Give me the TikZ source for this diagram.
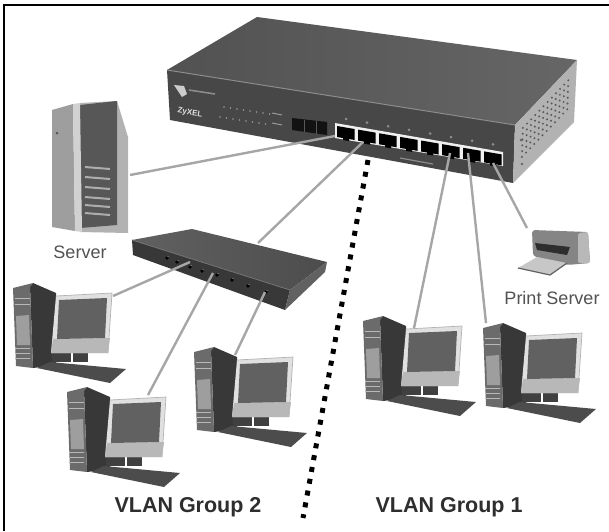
\documentclass[tikz,border=0pt]{standalone}
\usepackage{fontspec}
\setmainfont{Liberation Sans}
\definecolor{cable}{gray}{0.65}
\tikzset{
  cablewire/.style={draw=cable,line width=2.4pt},
  vlandots/.style={draw=black,line width=5pt,dash pattern=on 5pt off 7pt},
  grouplabel/.style={font=\fontsize{21.5}{24}\selectfont\bfseries,text=black!82,inner sep=0pt},
  devlabel/.style={font=\fontsize{18}{20}\selectfont,text=black!68,inner sep=0pt},
}
\newcommand{\pcunit}[2]{%
\begin{scope}[shift={(#1,#2)}]
  % tower
  \fill[black!78] (30,286) -- (33,283) -- (56,293) -- (56,365) -- (33,368) -- cycle;
  \fill[black!58] (13,288) -- (33,283) -- (30,287) -- (33,368) -- (16,366) -- cycle;
  \fill[black!38] (16,316) -- (29,315) -- (30,345) -- (17,345) -- cycle;
  \foreach \yy in {298,304,348,353,358}{\draw[black!28,line width=1pt] (15,\yy) -- (30,\yy);}
  % stand
  \fill[black!75] (52,352) -- (71,352) -- (71,362) -- (52,362) -- cycle;
  \fill[black!75] (73,352) -- (88,352) -- (88,362) -- (73,362) -- cycle;
  % keyboard
  \fill[black!70] (37,368) -- (50,362) -- (126,369) -- (110,383) -- cycle;
  % monitor
  \fill[black!12] (56,296) -- (112,293) -- (108,353) -- (51,353) -- cycle;
  \draw[black!30,line width=.7pt] (56,296) -- (112,293) -- (108,353);
  \fill[black!28] (53,339) -- (110,338) -- (108,353) -- (51,353) -- cycle;
  \fill[black!62] (59,300) -- (107,298) -- (105,338) -- (57,339) -- cycle;
\end{scope}}
\begin{document}
\begin{tikzpicture}[x=1pt,y=-1pt]
\useasboundingbox (0,0) rectangle (609,531);
\fill[white] (0,0) rectangle (609,531);
\fill[black] (3,4) rectangle (609,6);
\fill[black] (3,4) rectangle (5,531);

% ---------- main switch ----------
\shade[left color=black!68,middle color=black!78,right color=black!60] (167,70) -- (257,17) -- (577,60) -- (515,125) -- cycle;
\fill[black!72] (167,70) -- (515,125) -- (513,183) -- (170,120) -- cycle;
\draw[black!45,line width=1pt] (167,70) -- (515,125);
\fill[black!30] (515,125) -- (577,60) -- (574,122) -- (513,183) -- cycle;
\foreach \u in {2,...,13}{\foreach \v in {2,...,7}{
  \fill[black!65] ({515+62*\u/15-2*\v/10},{125-65*\u/15+58*\v/10}) circle (1.1);
}}
\fill[black!60] (521,140) circle (1.5);
\fill[black!60] (522,164) circle (1.3);
% logo and name
\fill[black!20] (174,85) -- (184,86) -- (187,94) -- (182,97) -- cycle;
\draw[black!45,line width=1.6pt] (189,90) -- (215,94);
\node[font=\fontsize{8}{9}\selectfont\bfseries,text=black!12,rotate=-9,inner sep=0pt] (brand) at (190,113) {ZyXEL};
% LEDs
\foreach \i in {0,...,7}{
  \fill[black!40] ({224+6.5*\i},{107+1*\i}) circle (0.8);
  \fill[black!40] ({220+6.5*\i},{117+1*\i}) circle (0.8);
}
\draw[black!40,line width=1pt] (272,113) -- (282,115);
\draw[black!40,line width=1pt] (272,123) -- (282,125);
% fibre block
\fill[black!93] (292,118) -- (327,122) -- (327,135) -- (292,130) -- cycle;
\draw[black!65,line width=1pt] (304,120) -- (304,132);
\draw[black!65,line width=1pt] (316,121) -- (316,134);
% RJ45 frame and ports
\fill[black!6] (335,123) -- (503,152) -- (503,166) -- (335,138) -- cycle;
\foreach \i in {0,...,7}{
  \pgfmathsetmacro{\px}{335+21*\i}
  \pgfmathsetmacro{\py}{123+3.625*\i}
  \fill[black] ({\px+2},{\py+3}) -- ({\px+19.5},{\py+6}) -- ({\px+19.5},{\py+17}) -- ({\px+14},{\py+16})
     -- ({\px+14},{\py+18}) -- ({\px+8},{\py+17}) -- ({\px+8},{\py+15}) -- ({\px+2},{\py+14}) -- cycle;
  \fill[black!45] ({\px+11},{\py-4}) circle (1.5);
}
\draw[black!45,line width=1.2pt] (400,158) -- (433,164);

% ---------- second switch ----------
\shade[left color=black!62,right color=black!70] (132,240) -- (192,229) -- (327,262) -- (290,290) -- cycle;
\fill[black!78] (132,240) -- (290,290) -- (285,310) -- (133,255) -- cycle;
\fill[black!62] (290,290) -- (327,262) -- (325,272) -- (285,310) -- cycle;
\draw[black!55,line width=.8pt] (132,240) -- (290,290);
\foreach \qx/\qy in {167/258,177/262,190/267,202/271,217/275,232/280,248/286,266/292}{
  \fill[black] (\qx,\qy) circle (1.8);
  \fill[black!40] ({\qx+1},{\qy-1.5}) circle (0.6);
}

% ---------- server ----------
\fill[black!30] (117,101) -- (128,137) -- (128,233) -- (80,232) -- (80,103) -- cycle;
\fill[black!66] (80,105) -- (117,101) -- (117,225) -- (80,228) -- cycle;
\fill[black!38] (52,110) -- (73,104) -- (75,231) -- (52,227) -- cycle;
\fill[black!18] (73,104) -- (80,103) -- (82,232) -- (75,231) -- cycle;
\foreach \yy in {167,177,187,197,205,213}{
  \draw[black!32,line width=2pt] (85,\yy) -- (110,{\yy+2});
}
\fill[black!65] (57,133) circle (1.5);

% ---------- printer ----------
\fill[black!48,rounded corners=3pt] (532,230) -- (588,232) -- (590,263) -- (567,265) -- (533,256) -- cycle;
\fill[black!28,rounded corners=2pt] (578,233) -- (588,232) -- (590,263) -- (578,263) -- cycle;
\fill[black!82] (535,243) -- (570,247) -- (567,255) -- (537,250) -- cycle;
\fill[black!22] (518,268) -- (537,257) -- (567,263) -- (550,275) -- cycle;
\draw[black!62,line width=1.2pt] (518,268) -- (550,275) -- (567,263);

% ---------- computers ----------
\pcunit{0}{0}
\pcunit{54}{104}
\pcunit{181}{64}
\pcunit{350}{33}
\pcunit{470}{40}

% ---------- connectors ----------
\coordinate (srvR) at (130,175);
\coordinate (p1) at (335,136);
\coordinate (p2) at (363,142);
\coordinate (p6) at (450,153);
\coordinate (p7) at (468,153);
\coordinate (p8) at (493,163);
\coordinate (swTop) at (258,243);
\coordinate (swA) at (190,262);
\coordinate (swB) at (213,273);
\coordinate (swC) at (265,292);
\coordinate (pcA) at (113,296);
\coordinate (pcB) at (148,395);
\coordinate (pcC) at (235,355);
\coordinate (pcD) at (414,328);
\coordinate (pcE) at (486,323);
\coordinate (prn) at (527,228);
\draw[cablewire] (srvR) -- (p1);
\draw[cablewire] (swTop) -- (p2);
\draw[cablewire] (pcA) -- (swA);
\draw[cablewire] (pcB) -- (swB);
\draw[cablewire] (pcC) -- (swC);
\draw[cablewire] (pcD) -- (p6);
\draw[cablewire] (pcE) -- (p7);
\draw[cablewire] (prn) -- (p8);

% ---------- divider ----------
\coordinate (dotA) at (368,160);
\coordinate (dotB) at (303,518);
\draw[vlandots] (dotA) -- (dotB);

% ---------- labels ----------
\node[devlabel] (lblServer) at (80,252) {Server};
\node[devlabel] (lblPrint) at (552,298) {Print Server};
\node[grouplabel] (lblV2) at (188,507) {VLAN Group 2};
\node[grouplabel] (lblV1) at (449,507) {VLAN Group 1};
\end{tikzpicture}
\end{document}
